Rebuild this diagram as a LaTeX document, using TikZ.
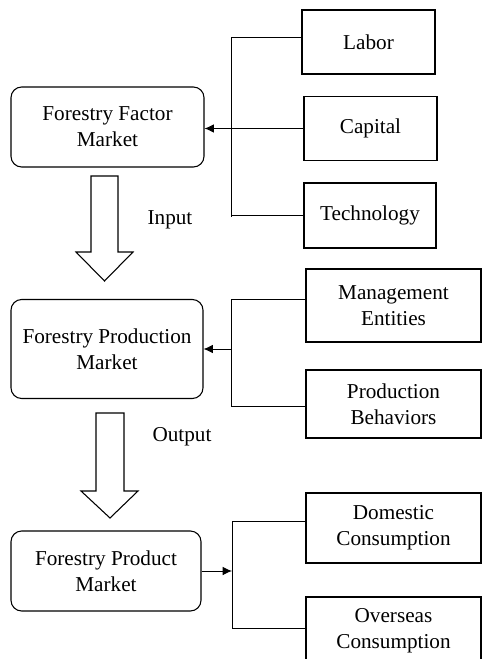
\documentclass[tikz,border=0pt]{standalone}
\usepackage{fontspec}
\setmainfont{Liberation Serif}
\usetikzlibrary{arrows.meta}
\begin{document}
\begin{tikzpicture}[x=0.75pt,y=-0.75pt,
  every node/.style={font=\fontsize{15.9}{19.5}\selectfont, align=center, inner sep=0pt},
  market/.style={draw, line width=0.8pt, rounded corners=8pt},
  itembox/.style={draw, line width=0.8pt},
  link/.style={line width=0.75pt},
  arr/.style={line width=0.75pt, -{Latex[length=7pt,width=6.5pt]}},
  hollow/.style={draw, line width=0.8pt, fill=white, line join=miter}]
\useasboundingbox (0,0) rectangle (482,659);
% markets
\node[market, minimum width={193*0.75pt}, minimum height={80*0.75pt}] (fm) at (107.5,127) {Forestry Factor\\Market};
\node[market, minimum width={192*0.75pt}, minimum height={99*0.75pt}] (pm) at (107,349) {Forestry Production\\Market};
\node[market, minimum width={190*0.75pt}, minimum height={80*0.75pt}] (prm) at (106,571) {Forestry Product\\Market};
% factor items
\node[itembox, minimum width={133*0.75pt}, minimum height={64*0.75pt}] (labor) at (368.5,42) {Labor};
\node[itembox, minimum width={133*0.75pt}, minimum height={64*0.75pt}] (capital) at (370.5,128.5) {Capital};
\node[itembox, minimum width={132*0.75pt}, minimum height={65*0.75pt}] (tech) at (370,215.5) {Technology};
% production items
\node[itembox, minimum width={175*0.75pt}, minimum height={73*0.75pt}] (mgmt) at (393.5,305.5) {Management\\Entities};
\node[itembox, minimum width={175*0.75pt}, minimum height={68*0.75pt}] (behav) at (393.5,404) {Production\\Behaviors};
% product items
\node[itembox, minimum width={175*0.75pt}, minimum height={70*0.75pt}] (dom) at (393.5,528) {Domestic\\Consumption};
\node[itembox, minimum width={175*0.75pt}, minimum height={68*0.75pt}] (over) at (393.5,631) {Overseas\\Consumption};
% bus 1
\coordinate (b1t) at (231,38);
\coordinate (b1m) at (231,128.5);
\coordinate (b1b) at (231,217);
\draw[link] (labor.west |- b1t) -- (b1t) -- (b1b);
\draw[link] (tech.west) -- (tech.west -| b1b);
\draw[link] (capital.west) -- (b1m);
\draw[arr] (b1m) -- (fm.east |- b1m);
% bus 2
\coordinate (b2t) at (231,299);
\coordinate (b2m) at (231,349);
\coordinate (b2b) at (231,406);
\draw[link] (mgmt.west |- b2t) -- (b2t) -- (b2b) -- (behav.west |- b2b);
\draw[arr] (b2m) -- (pm.east);
% bus 3
\coordinate (b3t) at (232,521);
\coordinate (b3m) at (232,571);
\coordinate (b3b) at (232,628);
\draw[link] (dom.west |- b3t) -- (b3t) -- (b3b) -- (over.west |- b3b);
\draw[arr] (prm.east) -- (b3m);
% hollow arrows
\draw[hollow] (91,176) -- (118,176) -- (118,252) -- (133,252) -- (104.5,281) -- (76,252) -- (91,252) -- cycle;
\draw[hollow] (96,413) -- (124,413) -- (124,491) -- (138,491) -- (110,518) -- (81,491) -- (96,491) -- cycle;
\node (inlab) at (170,220) {Input};
\node (outlab) at (182,437) {Output};
\end{tikzpicture}
\end{document}
